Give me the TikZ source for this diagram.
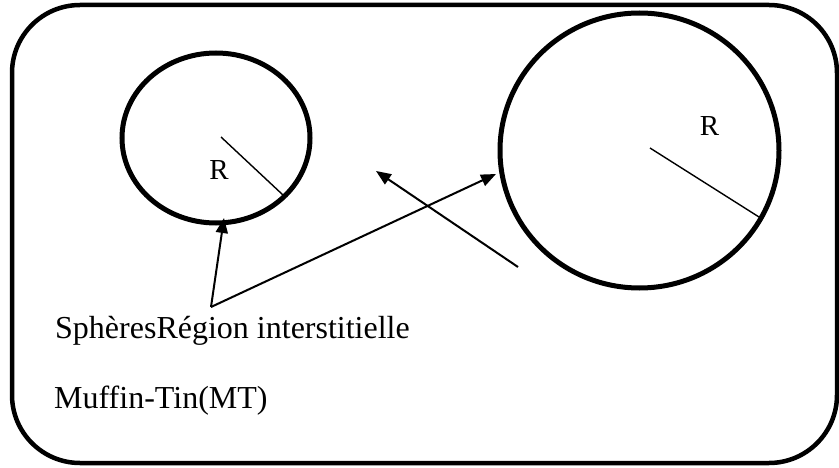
\documentclass[tikz,border=0pt]{standalone}
\usepackage{fontspec}
\setmainfont{Liberation Serif}
\usetikzlibrary{shapes.geometric,arrows.meta}
\begin{document}
\begin{tikzpicture}[x=1pt,y=-1pt,
  frame/.style={draw,line width=4.5pt,rounded corners=68pt},
  sphere/.style={draw,ellipse,line width=5pt,inner sep=0pt},
  radline/.style={line width=1.4pt},
  pointer/.style={line width=2pt,-{Triangle[length=15pt,width=12pt]}},
  bigtext/.style={inner sep=0pt,font=\fontsize{32}{38}\selectfont},
  rlabel/.style={inner sep=0pt,font=\fontsize{29}{34}\selectfont}]
\useasboundingbox (0,0) rectangle (839,468);
\draw[frame] (12,5) rectangle (837,463);
\node[sphere,minimum width=188pt,minimum height=170pt] (s1) at (216,138) {};
\node[sphere,minimum width=279pt,minimum height=275pt] (s2) at (639.5,150.5) {};
\coordinate (r1a) at (221,137);
\coordinate (r1b) at (283,195);
\coordinate (r2a) at (650,148);
\coordinate (r2b) at (759,217);
\draw[radline] (r1a) -- (r1b);
\draw[radline] (r2a) -- (r2b);
\node[rlabel,anchor=base] (R1) at (219,180) {R};
\node[rlabel,anchor=base] (R2) at (709.5,136) {R};
\coordinate (apex) at (211,307);
\coordinate (t1) at (224,218);
\coordinate (t2) at (496,174);
\coordinate (f3) at (518,267);
\coordinate (t3) at (376,171);
\draw[pointer] (apex) -- (t1);
\draw[pointer] (apex) -- (t2);
\draw[pointer] (f3) -- (t3);
\node[bigtext,anchor=base west] (lab1) at (55,338) {SphèresRégion interstitielle};
\node[bigtext,anchor=base west] (lab2) at (54,408) {Muffin-Tin(MT)};
\end{tikzpicture}
\end{document}
